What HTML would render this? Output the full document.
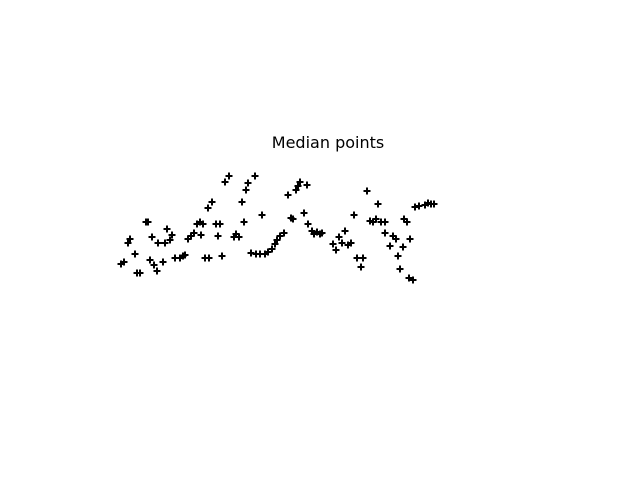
<!DOCTYPE html>
<html>
<head>
<meta charset="utf-8">
<style>
  html, body { margin: 0; padding: 0; background: #fff; }
  svg { display: block; }
</style>
</head>
<body>
<svg id="chart" width="640" height="480" viewBox="0 0 640 480" xmlns="http://www.w3.org/2000/svg">
  <rect width="640" height="480" fill="#fff"/>
  <text x="328" y="148" text-anchor="middle" font-family="DejaVu Sans, sans-serif" font-size="16" fill="#000">Median points</text>
  <g id="points"></g>
</svg>
<script>
const xs = [121,124,128,130,135,137,140,146,148,152,150,154,157,158,163,165,167,170,172,175,180,183,185,188,191,194,197,200,203,201,205,209,208,212,216,220,218,222,225,229,234,236,239,242,244,246,248,255,251,256,260,262,265,268,272,275,277,280,284,288,291,293,296,298,300,304,307,308,312,314,317,320,322,333,336,339,342,345,348,351,354,357,361,363,367,370,373,376,378,381,385,385,390,393,396,398,400,403,404,407,410,409,413,415,419,425,428,431,434];
const ys = [264,262,243,239,254,273,273,222,222,237,260,265,271,243,262,243,229,240,235,258,258,256,255,239,236,233,224,222,224,235,258,258,208,202,224,224,236,256,182,176,237,234,237,202,222,190,183,176,253,254,254,215,254,252,249,244,240,236,233,195,218,219,190,186,182,213,185,224,231,234,232,234,233,244,250,237,243,231,245,243,215,258,267,258,191,221,222,219,204,222,222,233,246,236,239,256,269,247,219,222,239,278,280,207,206,205,203,204,204];

const xDomain = [80, 560], xRange = [80, 560];
const yDomain = [100, 400], yRange = [100, 400];
function xScale(v) { return xRange[0] + (v - xDomain[0]) / (xDomain[1] - xDomain[0]) * (xRange[1] - xRange[0]); }
function yScale(v) { return yRange[0] + (v - yDomain[0]) / (yDomain[1] - yDomain[0]) * (yRange[1] - yRange[0]); }

const NS = 'http://www.w3.org/2000/svg';
const layer = document.getElementById('points');
const h = 3.5;
for (let i = 0; i < xs.length; i++) {
  const cx = xScale(xs[i]), cy = yScale(ys[i]);
  const p = document.createElementNS(NS, 'path');
  p.setAttribute('d', `M${cx - h},${cy}H${cx + h}M${cx},${cy - h}V${cy + h}`);
  p.setAttribute('stroke', '#000');
  p.setAttribute('stroke-width', '2');
  p.setAttribute('fill', 'none');
  
  
  layer.appendChild(p);
}
</script>
</body>
</html>
